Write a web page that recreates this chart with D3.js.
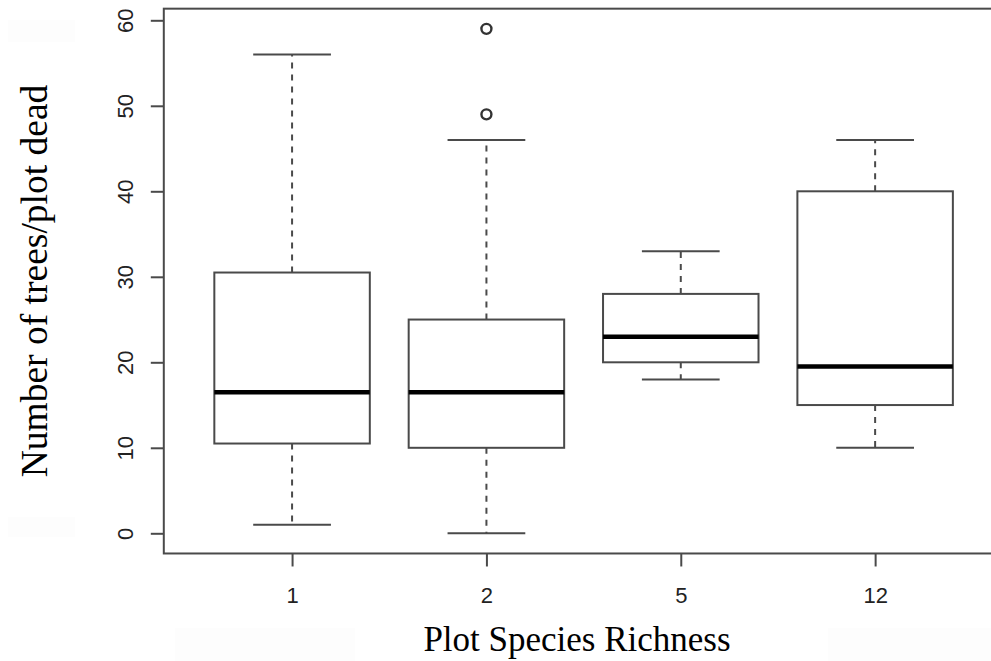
<!DOCTYPE html>
<html>
<head>
<meta charset="utf-8">
<script src="https://cdn.jsdelivr.net/npm/d3@7"></script>
<style>
  html, body { margin: 0; padding: 0; background: #fff; }
  svg { display: block; }
</style>
</head>
<body>
<svg id="chart" width="991" height="661"></svg>
<script>
// Dead trees per plot, grouped by plot species richness
const categories = ["1", "2", "5", "12"];
const whiskerLow = [1, 0, 18, 10];
const q1 = [10.5, 10, 20, 15];
const median = [16.5, 16.5, 23, 19.5];
const q3 = [30.5, 25, 28, 40];
const whiskerHigh = [56, 46, 33, 46];
const outliers = [[], [49, 59], [], []];
const yTicks = [0, 10, 20, 30, 40, 50, 60];

const svg = d3.select("#chart");
const lineCol = "#4a4a4a";

// faint background patches
const patches = [[8, 20, 67, 22], [8, 517, 67, 20], [175, 628, 180, 33], [828, 628, 163, 33]];
svg.selectAll("rect.patch").data(patches).join("rect")
  .attr("class", "patch")
  .attr("x", d => d[0]).attr("y", d => d[1])
  .attr("width", d => d[2]).attr("height", d => d[3])
  .attr("fill", "#fdfdfd");

// position scales (plot region padded by 4% like base graphics)
const x = d3.scaleLinear().domain([0.34, 4.66]).range([163.8, 1003.4]);
const y = d3.scaleLinear().domain([0, 60]).range([533.3, 20.3]);

const data = categories.map((c, i) => ({
  cat: c, pos: i + 1,
  lo: whiskerLow[i], q1: q1[i], med: median[i], q3: q3[i], hi: whiskerHigh[i],
  out: outliers[i]
}));

const halfBox = x(1.4) - x(1);
const halfCap = x(1.2) - x(1);

const g = svg.append("g");

// dashed whiskers
g.selectAll("line.wup").data(data).join("line")
  .attr("x1", d => x(d.pos)).attr("x2", d => x(d.pos))
  .attr("y1", d => y(d.q3)).attr("y2", d => y(d.hi))
  .attr("stroke", lineCol).attr("stroke-width", 2).attr("stroke-dasharray", "6,6");
g.selectAll("line.wdn").data(data).join("line")
  .attr("x1", d => x(d.pos)).attr("x2", d => x(d.pos))
  .attr("y1", d => y(d.q1)).attr("y2", d => y(d.lo))
  .attr("stroke", lineCol).attr("stroke-width", 2).attr("stroke-dasharray", "6,6");

// whisker caps
["hi", "lo"].forEach(k => {
  g.selectAll("line.cap" + k).data(data).join("line")
    .attr("x1", d => x(d.pos) - halfCap).attr("x2", d => x(d.pos) + halfCap)
    .attr("y1", d => y(d[k])).attr("y2", d => y(d[k]))
    .attr("stroke", lineCol).attr("stroke-width", 2);
});

// boxes
g.selectAll("rect.box").data(data).join("rect")
  .attr("x", d => x(d.pos) - halfBox).attr("width", 2 * halfBox)
  .attr("y", d => y(d.q3)).attr("height", d => y(d.q1) - y(d.q3))
  .attr("fill", "none").attr("stroke", lineCol).attr("stroke-width", 2);

// medians
g.selectAll("line.med").data(data).join("line")
  .attr("x1", d => x(d.pos) - halfBox).attr("x2", d => x(d.pos) + halfBox)
  .attr("y1", d => y(d.med)).attr("y2", d => y(d.med))
  .attr("stroke", "#000").attr("stroke-width", 4.5);

// outliers
const outPts = data.flatMap(d => d.out.map(v => ({ pos: d.pos, v })));
g.selectAll("circle.out").data(outPts).join("circle")
  .attr("cx", d => x(d.pos)).attr("cy", d => y(d.v)).attr("r", 5)
  .attr("fill", "none").attr("stroke", "#333").attr("stroke-width", 2.4);

// plot frame
svg.append("rect")
  .attr("x", x(0.34)).attr("y", y(61.36))
  .attr("width", x(4.66) - x(0.34)).attr("height", y(-2.36) - y(61.36))
  .attr("fill", "none").attr("stroke", lineCol).attr("stroke-width", 2);

const frameBottom = y(-2.36);
const frameLeft = x(0.34);

// y axis
const yAxis = d3.axisLeft(y).tickValues(yTicks).tickSize(13).tickPadding(0).tickFormat(d3.format("d"));
const ya = svg.append("g").attr("transform", `translate(${frameLeft},0)`).call(yAxis);
ya.select(".domain").remove();
ya.selectAll(".tick line").attr("stroke", lineCol).attr("stroke-width", 2);
ya.selectAll(".tick text")
  .attr("x", null).attr("dy", null)
  .attr("text-anchor", "middle")
  .attr("transform", "translate(-31,0) rotate(-90)")
  .attr("font-family", "Liberation Sans, Arial, sans-serif")
  .attr("font-size", 22).attr("fill", "#222");

// x axis
const xAxis = d3.axisBottom(x).tickValues(data.map(d => d.pos)).tickSize(13).tickPadding(0)
  .tickFormat((d, i) => categories[i]);
const xa = svg.append("g").attr("transform", `translate(0,${frameBottom})`).call(xAxis);
xa.select(".domain").remove();
xa.selectAll(".tick line").attr("stroke", lineCol).attr("stroke-width", 2);
xa.selectAll(".tick text")
  .attr("y", 50).attr("dy", null)
  .attr("font-family", "Liberation Sans, Arial, sans-serif")
  .attr("font-size", 22).attr("fill", "#222");

// axis titles
svg.append("text")
  .attr("x", 577).attr("y", 651)
  .attr("text-anchor", "middle")
  .attr("font-family", "Liberation Serif, Times New Roman, serif")
  .attr("font-size", 35).attr("fill", "#000")
  .text("Plot Species Richness");

svg.append("text")
  .attr("transform", "translate(47,281) rotate(-90)")
  .attr("text-anchor", "middle")
  .attr("font-family", "Liberation Serif, Times New Roman, serif")
  .attr("font-size", 37.5).attr("fill", "#000")
  .text("Number of trees/plot dead");
</script>
</body>
</html>
